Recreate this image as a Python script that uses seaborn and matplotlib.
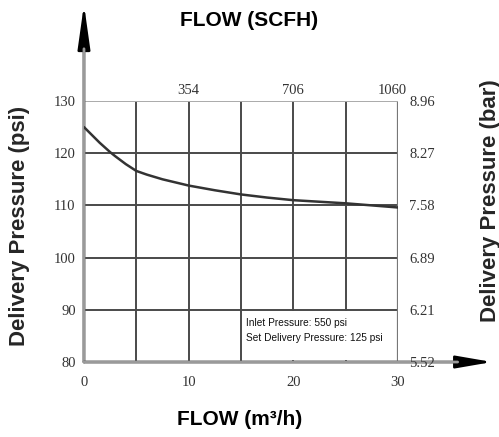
import matplotlib
matplotlib.use("Agg")
import matplotlib.pyplot as plt
import seaborn as sns
import pandas as pd
from matplotlib.patches import Rectangle

# Dados
fluxo_m3h = [0, 0.5, 1, 1.5, 2, 2.5, 3, 4, 5, 6, 7.5, 10, 12.5, 15, 17.5, 20, 25, 30]
pressao_psi = [125.0, 124.0, 123.0, 122.0, 121.1, 120.2, 119.4, 117.9, 116.6, 115.9, 115.0, 113.8,
               112.9, 112.1, 111.5, 111.0, 110.4, 109.6]

ticks_psi = [80, 90, 100, 110, 120, 130]
labels_bar = ["5.52", "6.21", "6.89", "7.58", "8.27", "8.96"]
ticks_m3h = [0, 10, 20, 30]
labels_scfh = ["354", "706", "1060"]
ticks_scfh = [10, 20, 30]

dados = pd.DataFrame({"fluxo": fluxo_m3h, "pressao": pressao_psi})

sns.set_style("white")
plt.rcParams['font.family'] = ['Liberation Sans', 'DejaVu Sans']

fig = plt.figure(figsize=(4.99, 4.37), dpi=100)
ax = fig.add_axes([0.1683, 0.1716, 0.6293, 0.5973])

grid_cor = "#4a4a4a"
eixo_cor = "#9a9a9a"

sns.lineplot(data=dados, x="fluxo", y="pressao", ax=ax, color="#333333", linewidth=1.8, zorder=5)

ax.set_xlim(0, 30)
ax.set_ylim(80, 130)
for v in range(5, 30, 5):
    ax.axvline(v, color=grid_cor, linewidth=1.4, zorder=1)
for v in ticks_psi[1:-1]:
    ax.axhline(v, color=grid_cor, linewidth=1.4, zorder=1)
ax.axvline(30, color="#777777", linewidth=1.6, zorder=1)
ax.axhline(130, color="#aaaaaa", linewidth=1.4, zorder=1)

for s in ax.spines.values():
    s.set_visible(False)

serif = dict(family="Liberation Serif", size=10.5, color="#333333")
ax.set_xticks(ticks_m3h)
ax.set_yticks(ticks_psi)
ax.set_xticklabels([str(t) for t in ticks_m3h], fontdict=serif)
ax.set_yticklabels([str(t) for t in ticks_psi], fontdict=serif)
ax.tick_params(axis="x", length=0, pad=10)
ax.tick_params(axis="y", length=0, pad=6)
ax.set_xlabel("")
ax.set_ylabel("")

axr = ax.twinx()
axr.set_ylim(80, 130)
axr.set_yticks(ticks_psi)
axr.set_yticklabels(labels_bar, fontdict=serif)
axr.tick_params(axis="y", length=0, pad=8)
for s in axr.spines.values():
    s.set_visible(False)

# escala superior (SCFH)
for t, lab in zip(ticks_scfh, labels_scfh):
    dx = -4 if t == 30 else 0
    ax.annotate(lab, xy=(t, 1), xycoords=("data", "axes fraction"), xytext=(dx, 3),
                textcoords="offset points", ha="center", va="bottom", annotation_clip=False, **serif)

# caixa de informacao
ax.add_patch(Rectangle((15.3, 80.3), 14.3, 9.5, facecolor="white", edgecolor="none", zorder=3))
ax.text(15.5, 87.4, "Inlet Pressure: 550 psi", fontsize=7.3, va="center", zorder=4, color="#111111")
ax.text(15.5, 84.6, "Set Delivery Pressure: 125 psi", fontsize=7.3, va="center", zorder=4, color="#111111")

# eixos com setas
ax.annotate("", xy=(0, 1.37), xytext=(0, 0), xycoords="axes fraction",
            arrowprops=dict(arrowstyle="-|>,head_length=2.7,head_width=0.38", mutation_scale=10,
                            color="black", lw=1.8, shrinkA=0, shrinkB=0), annotation_clip=False)
ax.annotate("", xy=(0, 0), xytext=(0, 1.2), xycoords="axes fraction",
            arrowprops=dict(arrowstyle="-", color=eixo_cor, lw=2, shrinkA=0, shrinkB=0), annotation_clip=False)
ax.annotate("", xy=(1.3, 0), xytext=(0, 0), xycoords="axes fraction",
            arrowprops=dict(arrowstyle="-|>,head_length=2.2,head_width=0.38", mutation_scale=10,
                            color="black", lw=1.8, shrinkA=0, shrinkB=0), annotation_clip=False)
ax.annotate("", xy=(0, 0), xytext=(1.19, 0), xycoords="axes fraction",
            arrowprops=dict(arrowstyle="-", color=eixo_cor, lw=2, shrinkA=0, shrinkB=0), annotation_clip=False)

titulo = dict(fontsize=15, fontweight="bold", color="black")
fig.text(0.5, 0.953, "FLOW (SCFH)", ha="center", va="center", **titulo)
fig.text(0.48, 0.04, "FLOW (m³/h)", ha="center", va="center", **titulo)
fig.text(0.04, 0.483, "Delivery Pressure (psi)", rotation=90, ha="center", va="center", fontsize=16, fontweight="bold")
fig.text(0.982, 0.54, "Delivery Pressure (bar)", rotation=90, ha="center", va="center", fontsize=16, fontweight="bold")

fig.savefig("out.png", dpi=100)
